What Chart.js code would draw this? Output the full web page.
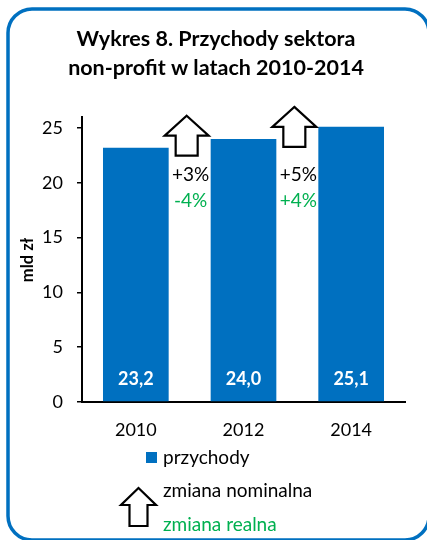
<!DOCTYPE html>
<html><head><meta charset="utf-8">
<script src="https://cdn.jsdelivr.net/npm/chart.js@4.4.1/dist/chart.umd.min.js"></script>
<style>html,body{margin:0;padding:0;background:#fff;}#wrap{width:427px;height:540px;position:relative;}</style>
</head><body><div id="wrap"><canvas id="c" width="427" height="540"></canvas></div>
<script>
const categories = ['2010', '2012', '2014'];
const revenue = [23.2, 24.0, 25.1];
const revenueLabels = ['23,2', '24,0', '25,1'];
const nominalChange = ['+3%', '+5%'];
const realChange = ['-4%', '+4%'];
const yTicks = [0, 5, 10, 15, 20, 25];
const titleLines = ['Wykres 8. Przychody sektora', 'non-profit w latach 2010-2014'];
const yTitle = 'mld zł';
const legendSeries = 'przychody';
const legendNominal = 'zmiana nominalna';
const legendReal = 'zmiana realna';

const BLUE = '#0070C0', GREEN = '#00B050';
const FONT = 'Lato, "Open Sans", sans-serif';

function arrow(ctx, cx, top, w, h, shaftW, headH) {
  ctx.beginPath();
  ctx.moveTo(cx, top);
  ctx.lineTo(cx + w / 2, top + headH);
  ctx.lineTo(cx + shaftW / 2, top + headH);
  ctx.lineTo(cx + shaftW / 2, top + h);
  ctx.lineTo(cx - shaftW / 2, top + h);
  ctx.lineTo(cx - shaftW / 2, top + headH);
  ctx.lineTo(cx - w / 2, top + headH);
  ctx.closePath();
  ctx.fillStyle = '#fff';
  ctx.fill();
  ctx.lineWidth = 2.2;
  ctx.strokeStyle = '#000';
  ctx.lineJoin = 'miter';
  ctx.stroke();
}

const deco = {
  id: 'deco',
  beforeDraw(chart) {
    const ctx = chart.ctx;
    ctx.save();
    ctx.fillStyle = '#fff';
    ctx.fillRect(0, 0, chart.width, chart.height);
    ctx.beginPath();
    ctx.lineWidth = 3.5;
    ctx.strokeStyle = BLUE;
    ctx.roundRect(8, 9, 421, 531, 24);
    ctx.stroke();
    ctx.restore();
  },
  afterDraw(chart) {
    const ctx = chart.ctx;
    const x = chart.scales.x, y = chart.scales.y;
    ctx.save();
    ctx.fillStyle = '#000';
    ctx.textAlign = 'center';
    ctx.textBaseline = 'middle';
    ctx.font = 'bold 21.5px ' + FONT;
    ctx.fillText(titleLines[0], 216, 39);
    ctx.fillText(titleLines[1], 216, 68);
    ctx.save();
    ctx.translate(28, 260);
    ctx.rotate(-Math.PI / 2);
    ctx.font = 'bold 16.5px ' + FONT;
    ctx.fillText(yTitle, 0, 0);
    ctx.restore();
    ctx.fillStyle = '#fff';
    ctx.font = 'bold 18px ' + FONT;
    revenue.forEach((v, i) => {
      ctx.fillText(revenueLabels[i], x.getPixelForValue(i), 379);
    });
    for (let i = 0; i < nominalChange.length; i++) {
      const bx = (x.getPixelForValue(i) + x.getPixelForValue(i + 1)) / 2;
      const prevTop = y.getPixelForValue(revenue[i]);
      arrow(ctx, bx - 3, prevTop - 32, 44, 40, 22, 20);
      ctx.font = '19px ' + FONT;
      ctx.textAlign = 'center';
      ctx.fillStyle = '#000';
      ctx.fillText(nominalChange[i], bx + 1, 175);
      ctx.fillStyle = GREEN;
      ctx.fillText(realChange[i], bx + 1, 201);
    }
    ctx.fillStyle = BLUE;
    ctx.fillRect(146, 452, 11, 11);
    ctx.textAlign = 'left';
    ctx.fillStyle = '#000';
    ctx.font = '19px ' + FONT;
    ctx.fillText(legendSeries, 163, 458);
    arrow(ctx, 138.5, 488, 35, 38, 18, 17);
    ctx.fillStyle = '#000';
    ctx.fillText(legendNominal, 163, 491);
    ctx.fillStyle = GREEN;
    ctx.fillText(legendReal, 163, 525);
    ctx.restore();
  }
};

new Chart(document.getElementById('c'), {
  type: 'bar',
  data: {
    labels: categories,
    datasets: [{
      label: legendSeries,
      data: revenue,
      backgroundColor: BLUE,
      borderWidth: 0,
      barPercentage: 0.61,
      categoryPercentage: 1.0
    }]
  },
  options: {
    responsive: false,
    animation: false,
    devicePixelRatio: 1,
    layout: { padding: { top: 117, left: 0, right: 22, bottom: 0 } },
    plugins: { legend: { display: false }, title: { display: false }, tooltip: { enabled: false } },
    scales: {
      x: {
        grid: { display: false, drawTicks: false },
        border: { color: '#000', width: 2 },
        ticks: { color: '#000', font: { size: 18, family: FONT }, padding: 17 },
        afterFit(s) { s.height = 138; }
      },
      y: {
        min: 0, max: 26,
        afterBuildTicks(s) { s.ticks = yTicks.map(v => ({ value: v })); },
        grid: { drawOnChartArea: false, drawTicks: true, tickLength: 5, color: '#000', lineWidth: 1.5 },
        border: { color: '#000', width: 2 },
        ticks: { color: '#000', font: { size: 18, family: FONT }, padding: 14 },
        afterFit(s) { s.width = 82; }
      }
    }
  },
  plugins: [deco]
});
</script>
</body></html>
